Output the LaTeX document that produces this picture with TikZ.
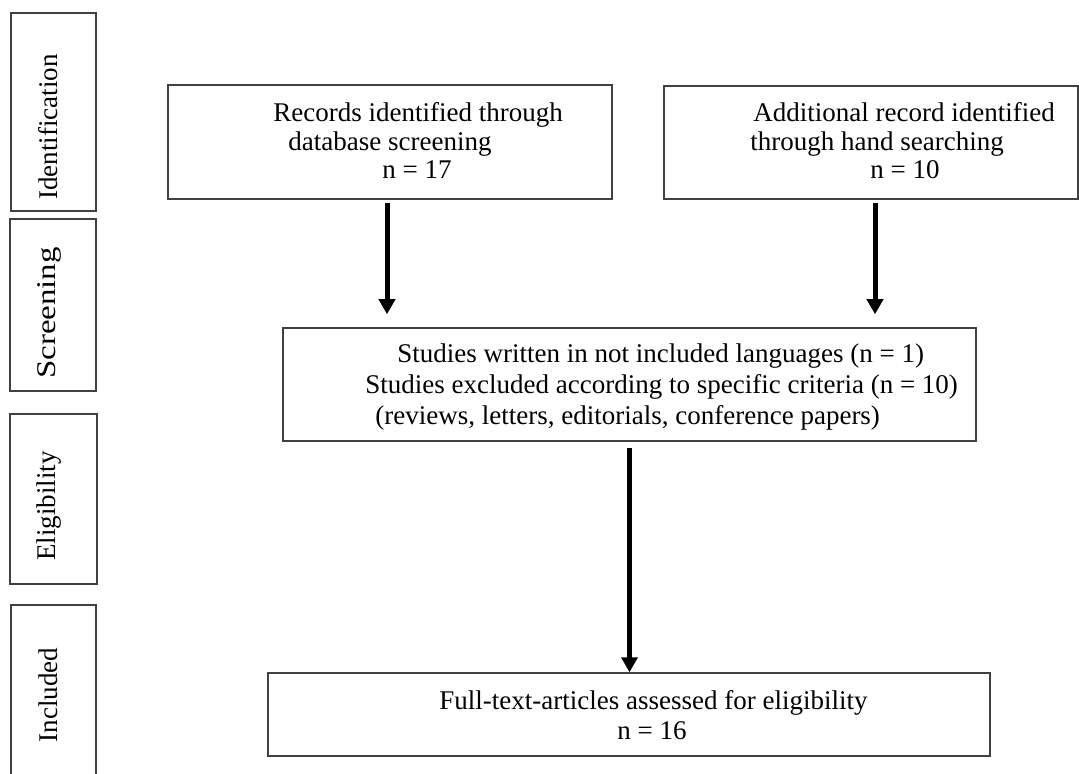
\documentclass[tikz,border=0pt]{standalone}
\usepackage{fontspec}
\setmainfont{Liberation Serif}
\newfontfamily\wideserif[FakeStretch=1.22]{Liberation Serif}
\usetikzlibrary{arrows.meta}

\begin{document}
\begin{tikzpicture}
 [x=0.5pt, y=-0.5pt,
  stage box/.style={draw=black!75, line width=0.75pt, inner sep=0pt},
  side box/.style={draw=black!75, line width=0.75pt, inner sep=0pt},
  stage text/.style={anchor=base west, align=left, inner sep=0pt, font=\fontsize{13.5}{14.4}\selectfont},
  side text/.style={rotate=90, inner sep=0pt, font=\fontsize{13.5}{13.6}\selectfont},
  flow/.style={-{Triangle[width=8pt,length=7.5pt]}, line width=2.5pt, black}]

\useasboundingbox (0,0) rectangle (1079,774);
\clip (0,0) rectangle (1079,774);

% stage labels on the left
\node[side box, minimum width=42.5pt, minimum height=99pt] (idbox) at (53.5,112) {};
\node[side text] (idlabel) at (48,127) {Identification};
\node[side box, minimum width=43pt, minimum height=86pt] (scbox) at (53,305) {};
\node[side text, font=\wideserif\fontsize{13.5}{13.6}\selectfont] (sclabel) at (49,313) {Screening};
\node[side box, minimum width=43.5pt, minimum height=85pt] (elbox) at (53.5,499) {};
\node[side text] (ellabel) at (49,506) {Eligibility};
\node[side box, minimum width=42.5pt, minimum height=100pt] (inbox) at (53.5,705) {};
\node[side text] (inlabel) at (48,695) {Included};

% flow boxes (text sits at the baseline of its last line)
\node[stage box, minimum width=222pt, minimum height=57pt] (rec) at (390,142) {};
\node[stage text] (rectext) at (273,179) {Records identified through\\\hspace*{7.5pt}database screening\\\hspace*{54.5pt}n = 17};
\node[stage box, minimum width=207pt, minimum height=56.5pt] (add) at (871,142.5) {};
\node[stage text] (addtext) at (750,179) {\hspace*{1.5pt}Additional record identified\\through hand searching\\\hspace*{60pt}n = 10};
\node[stage box, minimum width=346.5pt, minimum height=56.5pt] (scr) at (629.5,384.5) {};
\node[stage text, font=\fontsize{13.5}{15.5}\selectfont] (scrtext) at (365,424) {\hspace*{16pt}Studies written in not included languages (n = 1)\\Studies excluded according to specific criteria (n = 10)\\\hspace*{5pt}(reviews, letters, editorials, conference papers)};
\node[stage box, minimum width=361pt, minimum height=41.5pt] (inc) at (629,714.5) {};
\node[stage text, font=\fontsize{13.5}{15}\selectfont] (inctext) at (439,739) {Full-text-articles assessed for eligibility\\\hspace*{89pt}n = 16};

% arrows
\draw[flow, shorten <=1.5pt, shorten >=6.5pt] ([xshift=-1.5pt]rec.south) -- ([xshift=-1.5pt]rec.south |- scr.north);
\draw[flow, shorten <=1.5pt, shorten >=6.5pt] ([xshift=2pt]add.south) -- ([xshift=2pt]add.south |- scr.north);
\draw[flow, shorten <=3pt] (scr.south) -- (scr.south |- inc.north);

\end{tikzpicture}
\end{document}
